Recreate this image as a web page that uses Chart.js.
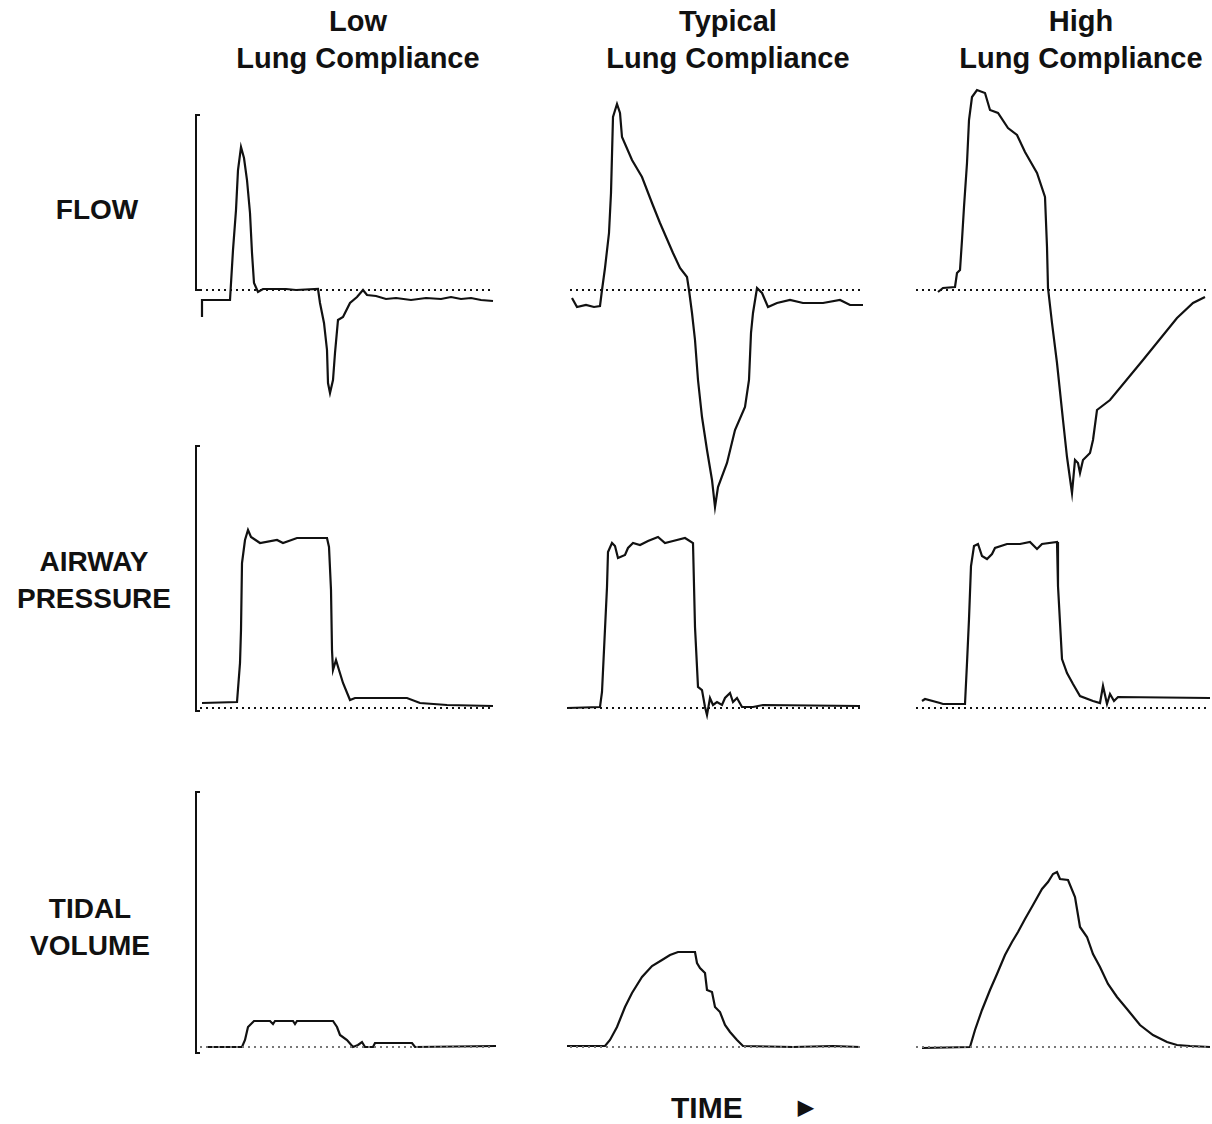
<!DOCTYPE html>
<html>
<head>
<meta charset="utf-8">
<script src="https://cdn.jsdelivr.net/npm/chart.js@4.4.1/dist/chart.umd.min.js"></script>
<style>
  body { margin:0; background:#fff; }
  #wrap { position:relative; width:1212px; height:1124px; overflow:hidden; font-family:"Liberation Sans", Arial, sans-serif; }
  .lbl { position:absolute; font-weight:bold; color:#111; text-align:center; white-space:nowrap; line-height:37px; }
  .head { font-size:29px; width:340px; }
  .row { font-size:28px; width:190px; }
  canvas { position:absolute; }
</style>
</head>
<body>
<div id="wrap">
  <div class="lbl head" style="left:188px;top:3px">Low<br>Lung Compliance</div>
  <div class="lbl head" style="left:558px;top:3px">Typical<br>Lung Compliance</div>
  <div class="lbl head" style="left:911px;top:3px">High<br>Lung Compliance</div>
  <div class="lbl row" style="left:2px;top:191px">FLOW</div>
  <div class="lbl row" style="left:-1px;top:543px">AIRWAY<br>PRESSURE</div>
  <div class="lbl row" style="left:-5px;top:890px">TIDAL<br>VOLUME</div>
  <div class="lbl" style="left:671px;top:1089px;font-size:30px">TIME</div>
  <div class="lbl" style="left:798px;top:1089px;font-size:20px">&#9654;</div>
</div>
<script>
// waveforms: [time, value], value 0 = dotted baseline
const columns = ['Low', 'Typical', 'High'];
const rows = ['FLOW', 'AIRWAY PRESSURE', 'TIDAL VOLUME'];

const flowLow = [[6,-27],[6,-10],[34,-10],[37,40],[40,80],[42,120],[45,143],[48,132],[51,110],[54,77],[56,37],[58,7],[62,-2],[67,1],[90,1],[100,0],[122,1],[124,-13],[128,-33],[131,-60],[132,-93],[134,-103],[137,-90],[139,-63],[142,-30],[147,-27],[154,-13],[161,-7],[167,0],[171,-5],[180,-6],[190,-9],[200,-8],[215,-10],[230,-8],[245,-9],[255,-7],[265,-9],[275,-8],[285,-10],[297,-11]];
const flowTypical = [[6,-8],[11,-17],[20,-15],[28,-17],[34,-16],[36,0],[39,22],[43,57],[45,97],[47,173],[51,186],[54,177],[56,153],[66,130],[76,113],[86,87],[94,67],[107,37],[114,22],[121,13],[123,0],[126,-23],[129,-50],[132,-90],[136,-127],[141,-160],[146,-190],[149,-217],[152,-197],[161,-173],[169,-140],[179,-117],[183,-90],[185,-43],[187,-23],[191,2],[196,-3],[202,-17],[211,-13],[224,-10],[237,-13],[257,-13],[274,-10],[284,-15],[297,-15]];
const flowHigh = [[26,-2],[31,2],[43,3],[45,17],[48,20],[50,50],[52,83],[55,127],[57,170],[60,193],[65,200],[73,197],[78,180],[86,177],[96,162],[105,155],[113,138],[125,117],[133,93],[135,43],[136,2],[140,-33],[145,-73],[151,-130],[155,-167],[160,-203],[163,-170],[166,-173],[168,-183],[171,-170],[178,-163],[181,-150],[185,-120],[198,-110],[231,-70],[265,-28],[281,-13],[293,-7]];

const pressLow = [[6,5],[41,6],[44,45],[45,78],[46,145],[49,168],[52,178],[55,171],[64,165],[81,168],[87,165],[101,170],[131,170],[133,161],[135,118],[136,58],[137,38],[140,48],[143,38],[147,25],[154,8],[159,10],[177,10],[211,10],[224,5],[251,3],[297,2]];
const pressTypical = [[1,0],[34,1],[36,16],[38,58],[41,121],[42,156],[46,165],[49,162],[52,150],[59,153],[62,160],[67,165],[74,163],[82,167],[92,171],[99,165],[107,167],[119,170],[127,165],[129,81],[132,21],[136,18],[139,1],[141,-7],[144,10],[147,3],[151,6],[156,3],[159,10],[164,15],[167,6],[171,10],[176,1],[187,1],[197,3],[294,2]];
const pressHigh = [[10,7],[13,9],[28,5],[31,4],[53,4],[55,45],[57,89],[59,142],[62,162],[66,164],[70,152],[75,149],[80,154],[83,160],[95,164],[108,164],[118,166],[125,159],[130,164],[145,166],[146,122],[150,49],[155,35],[161,24],[168,12],[181,7],[188,5],[191,22],[195,4],[198,14],[202,7],[206,11],[298,10]];

const volLow = [[12,0],[46,0],[49,7],[52,20],[58,26],[74,26],[77,23],[79,26],[97,26],[99,23],[101,26],[137,26],[141,20],[144,12],[151,7],[157,0],[162,2],[166,5],[169,0],[177,0],[179,4],[216,4],[219,0],[301,1]];
const volTypical = [[1,1],[39,1],[44,7],[51,20],[59,40],[66,54],[76,70],[86,81],[96,87],[104,92],[112,95],[129,95],[131,84],[134,79],[139,74],[141,57],[146,55],[149,40],[154,35],[159,22],[164,15],[171,7],[177,1],[227,0],[267,1],[294,0]];
const volHigh = [[10,-1],[58,0],[63,17],[70,37],[78,57],[85,73],[93,92],[100,105],[106,115],[113,128],[121,142],[130,158],[136,165],[141,173],[145,175],[148,168],[156,167],[163,150],[168,120],[175,110],[181,93],[188,80],[196,63],[205,50],[215,38],[228,22],[241,12],[255,5],[265,2],[278,1],[298,0]];

// value range of the bracket on the left of each row
const flowBracket = [0, 175];
const pressBracket = [-3, 262];
const volBracket = [-6, 255];

const colLeft = [196, 566, 912];
const rowSpec = [
  { top:80,  min:-230, max:210, series:[flowLow, flowTypical, flowHigh], bracket:flowBracket, dot:'#111' },
  { top:430, min:-22,  max:278, series:[pressLow, pressTypical, pressHigh], bracket:pressBracket, dot:'#111' },
  { top:780, min:-23,  max:267, series:[volLow, volTypical, volHigh], bracket:volBracket, dot:'#777' }
];

const bracketPlugin = {
  id: 'bracket',
  afterDraw(chart, args, opts){
    if (!opts.range) return;
    const {ctx, scales:{x, y}} = chart;
    const px = x.getPixelForValue(0);
    const y0 = y.getPixelForValue(opts.range[0]);
    const y1 = y.getPixelForValue(opts.range[1]);
    ctx.save();
    ctx.strokeStyle = '#111';
    ctx.lineWidth = 2;
    ctx.beginPath();
    ctx.moveTo(px + 4, y1); ctx.lineTo(px, y1);
    ctx.lineTo(px, y0); ctx.lineTo(px + 4, y0);
    ctx.stroke();
    ctx.restore();
  }
};

const wrap = document.getElementById('wrap');
rowSpec.forEach((r, ri) => {
  r.series.forEach((pts, ci) => {
    const cv = document.createElement('canvas');
    cv.width = 310; cv.height = r.max - r.min;
    cv.style.left = (colLeft[ci] - 10) + 'px';
    cv.style.top = r.top + 'px';
    wrap.appendChild(cv);
    new Chart(cv.getContext('2d'), {
      type: 'line',
      data: {
        datasets: [
          {
            label: rows[ri] + ' ' + columns[ci] + ' baseline',
            data: [{x:4, y:0}, {x:298, y:0}],
            borderColor: r.dot, borderWidth: 2, borderDash: [2, 4],
            pointRadius: 0
          },
          {
            label: rows[ri] + ' ' + columns[ci],
            data: pts.map(p => ({x:p[0], y:p[1]})),
            borderColor: '#111', borderWidth: 2.2, tension: 0,
            pointRadius: 0, fill: false
          }
        ]
      },
      options: {
        responsive: false, animation: false,
        layout: { padding: 0 },
        scales: {
          x: { type:'linear', min:-10, max:300, display:false },
          y: { min:r.min, max:r.max, display:false }
        },
        plugins: {
          legend: { display:false }, tooltip: { enabled:false },
          bracket: { range: ci === 0 ? r.bracket : null }
        }
      },
      plugins: [bracketPlugin]
    });
  });
});
</script>
</body>
</html>
